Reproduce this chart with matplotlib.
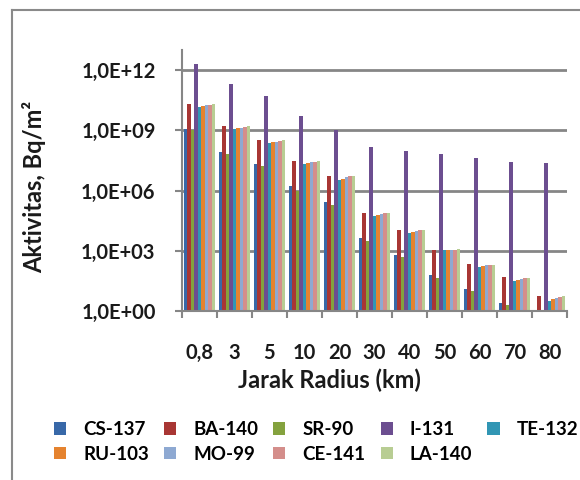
import numpy as np
import matplotlib
matplotlib.use('Agg')
import matplotlib.pyplot as plt
from matplotlib.patches import Patch
from matplotlib.lines import Line2D
from matplotlib.ticker import FixedLocator, FixedFormatter

plt.rcParams['font.family'] = ['Lato', 'DejaVu Sans']
plt.rcParams['font.weight'] = 'bold'

radius = ['0,8', '3', '5', '10', '20', '30', '40', '50', '60', '70', '80']
nuclides = ['CS-137', 'BA-140', 'SR-90', 'I-131', 'TE-132',
            'RU-103', 'MO-99', 'CE-141', 'LA-140']

cs137 = [1.2e9, 8e7, 2e7, 1.6e6, 2.6e5, 4.3e3, 6.3e2, 60, 13, 2.6, 0.5]
ba140 = [2e10, 1.6e9, 3.2e8, 3e7, 5.2e6, 8e4, 1.1e4, 1.1e3, 210, 47, 5.6]
sr90 = [1e9, 6.3e7, 1.6e7, 1e6, 2e5, 3.2e3, 470, 43, 10, 2, 0.5]
i131 = [2e12, 2e11, 5e10, 5e9, 1e9, 1.5e8, 9.3e7, 6.3e7, 4.3e7, 2.6e7, 2.3e7]
te132 = [1.5e10, 1.2e9, 2.4e8, 2.1e7, 3.4e6, 5.6e4, 7.4e3, 1.07e3, 160, 32, 3.2]
ru103 = [1.6e10, 1.26e9, 2.5e8, 2.3e7, 3.7e6, 6.3e4, 8.5e3, 1.1e3, 180, 35, 4]
mo99 = [1.8e10, 1.35e9, 2.7e8, 2.5e7, 4.7e6, 6.8e4, 1e4, 1.1e3, 185, 38, 4.7]
ce141 = [1.9e10, 1.5e9, 3e8, 2.7e7, 5.2e6, 7.4e4, 1.07e4, 1.15e3, 190, 42, 5.2]
la140 = [2e10, 1.6e9, 3.2e8, 3e7, 5.6e6, 8e4, 1.12e4, 1.2e3, 200, 45, 5.6]

series = [cs137, ba140, sr90, i131, te132, ru103, mo99, ce141, la140]
colors = ['#3868A8', '#A83634', '#84A23E', '#6C4E90', '#3196B4',
          '#E5832F', '#8EA9D2', '#D48E8B', '#B8CD93']

fig = plt.figure(figsize=(5.8, 4.8), dpi=100)
ax = fig.add_axes([182/580, 1 - 311/480, 385/580, 261/480])

x = np.arange(len(radius))
w = 0.1
for j, (vals, c) in enumerate(zip(series, colors)):
    ax.bar(x + (j - 4) * w, vals, width=w, color=c, label=nuclides[j], zorder=2)

ax.set_yscale('log')
ax.set_ylim(1, 1e13)
ax.set_xlim(-0.5, len(radius) - 0.5)

ax.yaxis.set_major_locator(FixedLocator([1, 1e3, 1e6, 1e9, 1e12]))
ax.yaxis.set_major_formatter(FixedFormatter(['1,0E+00', '1,0E+03', '1,0E+06', '1,0E+09', '1,0E+12']))
ax.yaxis.set_minor_locator(FixedLocator([]))
ax.set_xticks(x)
ax.set_xticklabels(radius)
ax.set_xticks(np.arange(len(radius) + 1) - 0.5, minor=True)

gray = '#868686'
ax.grid(axis='y', color=gray, lw=2)
ax.set_axisbelow(True)
for s in ['top', 'right']:
    ax.spines[s].set_visible(False)
for s in ['left', 'bottom']:
    ax.spines[s].set_color(gray)
    ax.spines[s].set_linewidth(1.5)

ax.tick_params(axis='y', which='major', direction='out', length=5, width=1.5,
               color=gray, labelsize=14.5, pad=14)
ax.tick_params(axis='x', which='major', length=0, labelsize=14.5, pad=23)
ax.tick_params(axis='x', which='minor', direction='out', length=5, width=1.5, color=gray)
for lab in ax.get_xticklabels() + ax.get_yticklabels():
    lab.set_fontweight('bold')
    lab.set_color('#1a1a1a')

ax.set_ylabel('Aktivitas, Bq/m²', fontsize=17, fontweight='bold', color='#1a1a1a')
ax.yaxis.set_label_coords(-0.353, 0.475)
ax.set_xlabel('Jarak Radius (km)', fontsize=17, fontweight='bold', color='#1a1a1a')
ax.xaxis.set_label_coords(0.384, -0.222)
ax.xaxis.label.set_va('top')

# legend fills column by column, so interleave to get row-wise order
order = [0, 5, 1, 6, 2, 7, 3, 8, 4]
handles = [Patch(facecolor=colors[i], edgecolor='none') for i in order]
labels = [nuclides[i] for i in order]
fig.legend(handles, labels, ncol=5, loc='upper left', mode='expand',
           bbox_to_anchor=(54/580, 1 - 421/480, 524/580, 0.0), frameon=False,
           prop={'size': 13.5, 'weight': 'bold'}, handlelength=0.65, handleheight=0.65,
           handletextpad=0.9, columnspacing=0.5, labelspacing=0.4,
           borderaxespad=0, borderpad=0)

# chart area border (left and top edges visible)
fig.add_artist(Line2D([12/580, 12/580], [0, 1 - 10/480], color='#8a8a8a', lw=1.5))
fig.add_artist(Line2D([12/580, 1], [1 - 10/480, 1 - 10/480], color='#8a8a8a', lw=1.5))

fig.savefig('out.png', dpi=100)
